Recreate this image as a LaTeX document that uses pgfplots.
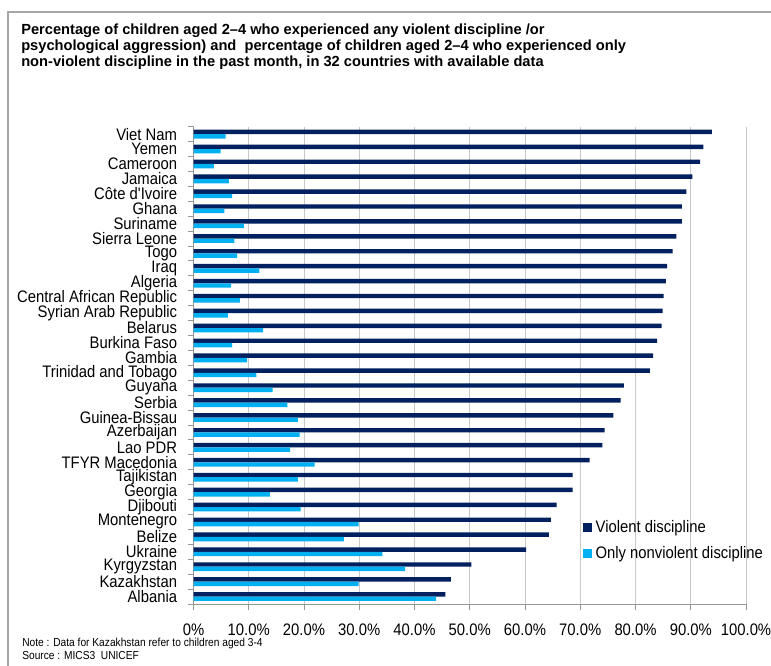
\documentclass[border=0pt]{standalone}
\usepackage{pgfplots}
\pgfplotsset{compat=1.18}
\usepackage{pgfplotstable}
\usepackage{fontspec}
\setmainfont{Liberation Sans}
\newfontfamily\lab{Liberation Sans}[FakeStretch=0.89]
\newfontfamily\notefont{Liberation Sans}[FakeStretch=0.88]

\definecolor{violent}{HTML}{002060}
\definecolor{nonviolent}{HTML}{00B0F0}
\definecolor{gridgray}{HTML}{C8C8C8}
\definecolor{axisgray}{HTML}{969696}
\definecolor{framegray}{HTML}{A6A6A6}

% rows bottom-up: Albania at 0, Viet Nam at 31
\pgfplotstableread[col sep=comma]{
y,country,violent,nonviolent
0,Albania,45.6,43.9
1,Kazakhstan,46.6,29.9
2,Kyrgyzstan,50.3,38.3
3,Ukraine,60.2,34.2
4,Belize,64.3,27.2
5,Montenegro,64.7,29.9
6,Djibouti,65.7,19.4
7,Georgia,68.6,13.8
8,Tajikistan,68.6,18.9
9,TFYR Macedonia,71.7,21.9
10,Lao PDR,74.0,17.5
11,Azerbaijan,74.4,19.2
12,Guinea-Bissau,76.0,18.9
13,Serbia,77.3,17.0
14,Guyana,77.9,14.3
15,Trinidad and Tobago,82.6,11.4
16,Gambia,83.2,9.7
17,Burkina Faso,83.9,7.0
18,Belarus,84.7,12.6
19,Syrian Arab Republic,84.9,6.2
20,Central African Republic,85.1,8.4
21,Algeria,85.5,6.8
22,Iraq,85.7,11.9
23,Togo,86.7,7.9
24,Sierra Leone,87.4,7.4
25,Suriname,88.4,9.1
26,Ghana,88.4,5.6
27,Côte d'Ivoire,89.2,7.0
28,Jamaica,90.3,6.4
29,Cameroon,91.7,3.7
30,Yemen,92.3,4.9
31,Viet Nam,93.8,5.8
}\discipline

\begin{document}
\begin{tikzpicture}
\useasboundingbox (0,0) rectangle (578.25pt,-499.5pt);
\draw[framegray, line width=1.1pt] (6pt,-520pt) -- (6pt,-9pt) -- (600pt,-9pt);

\node[anchor=north west, align=left, inner sep=0pt,
      font=\bfseries\fontsize{11}{12}\selectfont] at (15.75pt,-18pt)
  {Percentage of children aged 2--4 who experienced any violent discipline /or\\
   psychological aggression) and\ \ percentage of children aged 2--4 who experienced only\\
   non-violent discipline in the past month, in 32 countries with available data};

\node[anchor=base west, inner sep=0pt, font=\notefont\fontsize{8.7}{9}\selectfont]
  at (16.5pt,-484.5pt) {Note : Data for Kazakhstan refer to children aged 3-4};
\node[anchor=base west, inner sep=0pt, font=\notefont\fontsize{8.7}{9}\selectfont]
  at (16.5pt,-494.25pt) {Source : MICS3\ \ UNICEF};

\begin{axis}[
  at={(145.125pt,-453pt)}, anchor=south west,
  scale only axis, width=414.4pt, height=358pt,
  xbar, bar width=3.3pt,
  xmin=0, xmax=100, ymin=-0.5, ymax=31.5,
  axis x line*=bottom, axis y line*=left,
  axis line style={axisgray, line width=0.75pt},
  xtick={0,10,...,100},
  xticklabels={0\%,10.0\%,20.0\%,30.0\%,40.0\%,50.0\%,60.0\%,70.0\%,80.0\%,90.0\%,100.0\%},
  xmajorgrids, major grid style={gridgray, line width=0.75pt},
  tick align=outside, major tick length=4.3pt,
  xtick style={axisgray, line width=0.75pt},
  ytick={0,...,31},
  yticklabels from table={\discipline}{country},
  ytick style={draw=none},
  extra y ticks={-0.5,0.5,...,31.5},
  extra y tick labels={},
  extra y tick style={ytick style={draw=axisgray, line width=0.75pt}, grid=none},
  ticklabel style={font=\lab\fontsize{12.5}{12.5}\selectfont, text=black},
  xticklabel style={yshift=-7pt},
  yticklabel style={xshift=-4.5pt},
  legend style={at={(0.705,0.134)}, anchor=west, draw=none, fill=none,
    inner sep=0pt, font=\lab\fontsize{12.5}{12.5}\selectfont,
    nodes={inner sep=2.5pt}, row sep=4pt, cells={anchor=west}},
]
\addplot[fill=violent, draw=none, bar shift=1.65pt,
  legend image code/.code={\fill[violent] (0pt,-3.375pt) rectangle (6.75pt,3.375pt);}]
  table[x=violent, y=y] {\discipline};
\addlegendentry{Violent discipline}
\addplot[fill=nonviolent, draw=none, bar shift=-1.65pt,
  legend image code/.code={\fill[nonviolent] (0pt,-3.375pt) rectangle (6.75pt,3.375pt);}]
  table[x=nonviolent, y=y] {\discipline};
\addlegendentry{Only nonviolent discipline}
\end{axis}
\end{tikzpicture}
\end{document}
